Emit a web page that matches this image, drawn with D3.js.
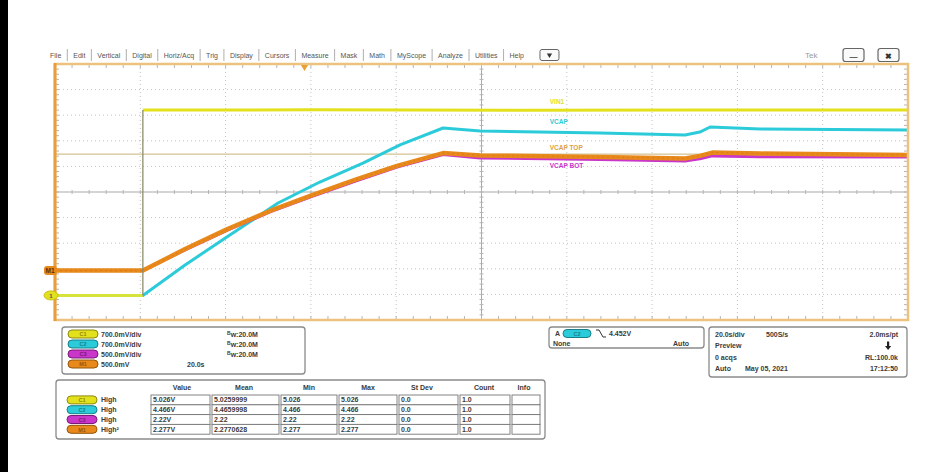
<!DOCTYPE html>
<html>
<head>
<meta charset="utf-8">
<script src="https://cdn.jsdelivr.net/npm/d3@7"></script>
<style>
  html, body { margin: 0; padding: 0; background: #fff; }
  svg { display: block; font-family: "Liberation Sans", Arial, sans-serif; }
</style>
</head>
<body>
<svg id="chart" width="944" height="472"></svg>
<script>
// ---------------- DATA ----------------
// time in seconds (20 s/div, 10 divisions), vertical in screen divisions (-5..5)
const menuItems = ["File","Edit","Vertical","Digital","Horiz/Acq","Trig","Display","Cursors","Measure","Mask","Math","MyScope","Analyze","Utilities","Help"];

const vinT  = [0, 20.6, 20.6, 60, 110, 150, 200];
const vinV  = [-4.04, -4.04, 3.20, 3.21, 3.19, 3.20, 3.20];

const vcapT = [0, 20.6, 30.5, 40.3, 52.3, 62.1, 72.2, 80.9, 91.0, 99.7, 127.8, 147.7, 151.2, 153.6, 165.3, 200];
const vcapV = [-4.04, -4.04, -2.85, -1.76, -0.43, 0.39, 1.13, 1.84, 2.50, 2.38, 2.30, 2.23, 2.34, 2.54, 2.46, 2.42];

const topT  = [0, 20.6, 30.5, 40.3, 50.4, 60.3, 70.3, 80.2, 91.0, 99.7, 127.8, 147.7, 151.2, 154.1, 165.3, 200];
const topV  = [-3.07, -3.07, -2.23, -1.46, -0.74, -0.12, 0.47, 1.02, 1.52, 1.43, 1.37, 1.31, 1.41, 1.54, 1.50, 1.45];

const botT  = [0, 20.6, 30.5, 40.3, 50.4, 60.3, 70.3, 80.2, 91.0, 99.7, 127.8, 147.7, 151.2, 154.1, 165.3, 200];
const botV  = [-3.07, -3.07, -2.26, -1.50, -0.78, -0.17, 0.42, 0.97, 1.46, 1.33, 1.27, 1.21, 1.30, 1.41, 1.38, 1.37];

const traceLabels = ["VIN1", "VCAP", "VCAP TOP", "VCAP BOT"];
const triggerLevel = 1.48;        // divisions
const triggerTime = 58.5;         // s
const labelTime = 116;            // s, where trace labels sit

const chanNames  = ["C1", "C2", "C3", "M1"];
const chanScale  = ["700.0mV/div", "700.0mV/div", "500.0mV/div", "500.0mV"];
const chanBw     = ["20.0M", "20.0M", "20.0M", ""];
const mathTime   = "20.0s";

const trigInfo   = ["A", "4.452V", "None", "Auto"];
const horizInfo  = [["20.0s/div", "500S/s", "2.0ms/pt"], ["Preview", "", ""], ["0 acqs", "", "RL:100.0k"], ["Auto", "May 05, 2021", "17:12:50"]];

const measHeaders = ["Value", "Mean", "Min", "Max", "St Dev", "Count", "Info"];
const measNames   = ["High", "High", "High", "High\u00B2"];
const measValue   = ["5.026V", "4.466V", "2.22V", "2.277V"];
const measMean    = ["5.0259999", "4.4659998", "2.22", "2.2770628"];
const measMin     = ["5.026", "4.466", "2.22", "2.277"];
const measMax     = ["5.026", "4.466", "2.22", "2.277"];
const measStdDev  = ["0.0", "0.0", "0.0", "0.0"];
const measCount   = ["1.0", "1.0", "1.0", "1.0"];

// ---------------- STYLE ----------------
const colY = "#e3e01c", colC = "#2ccbd9", colM = "#c936c9", colO = "#e8891c";
const chanCols = [colY, colC, colM, colO];
const chanDark = ["#8f8a10", "#17808a", "#7a1a7a", "#95560c"];

const svg = d3.select("#chart");
const W = 944, H = 472;
svg.append("rect").attr("width", W).attr("height", H).attr("fill", "#fff");
svg.append("rect").attr("x", 0).attr("y", 0).attr("width", 8).attr("height", H).attr("fill", "#000");

const P = {l: 55, r: 908, t: 64, b: 320};
const x = d3.scaleLinear().domain([0, 200]).range([P.l, P.r]);
const y = d3.scaleLinear().domain([-5, 5]).range([P.b, P.t]);

// ---------------- MENU BAR ----------------
const menu = svg.append("g").attr("font-size", 7).attr("fill", "#555").attr("font-weight", 400);
let mx = 50;
menuItems.forEach((m, i) => {
  const t = menu.append("text").attr("x", mx).attr("y", 57.5).text(m).attr("fill", "#555");
  const w = t.node().getComputedTextLength();
  mx += w + 6;
  if (i < menuItems.length - 1) {
    menu.append("line").attr("x1", mx).attr("x2", mx).attr("y1", 49).attr("y2", 61).attr("stroke", "#999").attr("stroke-width", 0.8);
  }
  mx += 6;
});
// dropdown button
svg.append("rect").attr("x", mx + 4).attr("y", 49.5).attr("width", 19).attr("height", 11).attr("rx", 2)
  .attr("fill", "#fafafa").attr("stroke", "#666").attr("stroke-width", 1);
svg.append("path").attr("d", d3.symbol(d3.symbolTriangle, 12)()).attr("fill", "#333")
  .attr("transform", `translate(${mx + 13.5},55) rotate(180)`);
svg.append("text").attr("x", 805).attr("y", 58).attr("font-size", 8).attr("fill", "#999").text("Tek");
[[843, "\u2014"], [878, "\u2716"]].forEach(([bx, s]) => {
  svg.append("rect").attr("x", bx).attr("y", 48.5).attr("width", 21).attr("height", 13).attr("rx", 2.5)
    .attr("fill", "#fafafa").attr("stroke", "#666").attr("stroke-width", 1.2);
  svg.append("text").attr("x", bx + 10.5).attr("y", 58.5).attr("text-anchor", "middle")
    .attr("font-size", 8).attr("font-weight", 700).attr("fill", "#333").text(s);
});

// ---------------- GRATICULE ----------------
const g = svg.append("g");
const xMaj = d3.range(0, 201, 20), yMaj = d3.range(-5, 6, 1);
const xMin = d3.range(0, 200.01, 4), yMin = d3.range(-5, 5.01, 0.2);
g.selectAll(".vg").data(xMaj.slice(1, -1)).join("line")
  .attr("x1", d => x(d)).attr("x2", d => x(d)).attr("y1", P.t).attr("y2", P.b)
  .attr("stroke", d => d === 100 ? "#a9a9a9" : "#c4c4c4")
  .attr("stroke-width", 1).attr("stroke-dasharray", d => d === 100 ? null : "1,3");
g.selectAll(".hg").data(yMaj.slice(1, -1)).join("line")
  .attr("x1", P.l).attr("x2", P.r).attr("y1", d => y(d)).attr("y2", d => y(d))
  .attr("stroke", d => d === 0 ? "#a9a9a9" : "#c4c4c4")
  .attr("stroke-width", 1).attr("stroke-dasharray", d => d === 0 ? null : "1,3");
// minor ticks on frame and center axes
const tk = g.append("g").attr("stroke", "#b5b5b5").attr("stroke-width", 1);
xMin.forEach(d => {
  tk.append("line").attr("x1", x(d)).attr("x2", x(d)).attr("y1", P.t).attr("y2", P.t + 4);
  tk.append("line").attr("x1", x(d)).attr("x2", x(d)).attr("y1", P.b).attr("y2", P.b - 4);
  tk.append("line").attr("x1", x(d)).attr("x2", x(d)).attr("y1", y(0) - 2).attr("y2", y(0) + 2);
});
yMin.forEach(d => {
  tk.append("line").attr("y1", y(d)).attr("y2", y(d)).attr("x1", P.l).attr("x2", P.l + 4);
  tk.append("line").attr("y1", y(d)).attr("y2", y(d)).attr("x1", P.r).attr("x2", P.r - 4);
  tk.append("line").attr("y1", y(d)).attr("y2", y(d)).attr("x1", x(100) - 2).attr("x2", x(100) + 2);
});

// trigger level line
g.append("line").attr("x1", P.l).attr("x2", P.r).attr("y1", y(triggerLevel)).attr("y2", y(triggerLevel))
  .attr("stroke", "#c9b27a").attr("stroke-width", 1);

// ---------------- TRACES ----------------
const line = d3.line().x(d => x(d[0])).y(d => y(d[1]));
const zip = (a, b) => a.map((v, i) => [v, b[i]]);
const tr = svg.append("g").attr("fill", "none").attr("stroke-linejoin", "round");
tr.append("path").datum(zip(vcapT, vcapV)).attr("d", line).attr("stroke", colC).attr("stroke-width", 3);
tr.append("path").datum(zip(botT, botV)).attr("d", line).attr("stroke", colM).attr("stroke-width", 3);
tr.append("path").datum(zip(topT, topV)).attr("d", line).attr("stroke", colO).attr("stroke-width", 4.5);
tr.append("path").datum(zip(topT, topV)).attr("d", line).attr("stroke", "#d9700f").attr("stroke-width", 1).attr("stroke-dasharray", "2,3").attr("opacity", 0.6);
// yellow: low and high horizontal parts, thin step edge
const vin = zip(vinT, vinV);
tr.append("path").datum(vin.slice(0, 2)).attr("d", line).attr("stroke", "#d6e33a").attr("stroke-width", 3);
tr.append("path").datum(vin.slice(2)).attr("d", line).attr("stroke", colY).attr("stroke-width", 3);
tr.append("path").datum(vin.slice(1, 3)).attr("d", line).attr("stroke", "#8d8d6a").attr("stroke-width", 1.3);

// trace labels
const lab = svg.append("g").attr("font-size", 6.5).attr("font-weight", 600);
const labelPos = [[vinT, vinV, -6, colY], [vcapT, vcapV, -6, colC], [topT, topV, -5, "#e0a040"], [botT, botV, 11, colM]];
labelPos.forEach(([tt, vv, dy, c], i) => {
  lab.append("text").attr("x", x(labelTime)).attr("y", y(vv[vv.length - 1]) + dy).attr("fill", c).text(traceLabels[i]);
});

// frame
svg.append("rect").attr("x", P.l).attr("y", P.t).attr("width", P.r - P.l).attr("height", P.b - P.t)
  .attr("fill", "none").attr("stroke", "#ecc27e").attr("stroke-width", 2.5);
svg.append("line").attr("x1", P.l).attr("x2", P.l).attr("y1", P.t - 1).attr("y2", P.b + 1)
  .attr("stroke", "#e99d3c").attr("stroke-width", 3);

// trigger position marker
svg.append("path").attr("d", d3.symbol(d3.symbolTriangle, 22)()).attr("fill", "#e8a030")
  .attr("transform", `translate(${x(triggerTime)},${P.t + 3}) rotate(180)`);

// channel markers at left
const m1y = y(topV[0]), c1y = y(vinV[0]);
svg.append("rect").attr("x", 44).attr("y", m1y - 4.5).attr("width", 13).attr("height", 9).attr("rx", 3).attr("fill", colO);
svg.append("text").attr("x", 50).attr("y", m1y + 2.5).attr("text-anchor", "middle").attr("font-size", 6.5).attr("font-weight", 700).attr("fill", "#5a3208").text("M1");
svg.append("ellipse").attr("cx", 51).attr("cy", c1y).attr("rx", 7).attr("ry", 4.5).attr("fill", colY).attr("stroke", "#c8c010");
svg.append("text").attr("x", 51).attr("y", c1y + 2.3).attr("text-anchor", "middle").attr("font-size", 6).attr("font-weight", 700).attr("fill", "#555").text("1");

// ---------------- LOWER PANELS ----------------
const txt = (parent, xx, yy, s, anchor) => parent.append("text").attr("x", xx).attr("y", yy)
  .attr("text-anchor", anchor || "start").text(s);
const badge = (parent, bx, cy, i, w) => {
  parent.append("rect").attr("x", bx).attr("y", cy - 4).attr("width", w || 30).attr("height", 8).attr("rx", 4)
    .attr("fill", chanCols[i]).attr("stroke", chanDark[i]).attr("stroke-width", 1);
  parent.append("text").attr("x", bx + (w || 30) / 2).attr("y", cy + 2.2).attr("text-anchor", "middle")
    .attr("font-size", 5.5).attr("fill", chanDark[i]).text(chanNames[i]);
};
const panel = svg.append("g").attr("font-size", 7).attr("font-weight", 600).attr("fill", "#3a3a3a");
const box = (bx, by, bw, bh) => panel.append("rect").attr("x", bx).attr("y", by).attr("width", bw).attr("height", bh)
  .attr("rx", 3).attr("fill", "#fff").attr("stroke", "#8a8a8a").attr("stroke-width", 1.3);

// channel box
box(62, 327, 243, 47);
chanNames.forEach((c, i) => {
  const cy = 334 + i * 10;
  badge(panel, 68, cy, i);
  txt(panel, 101, cy + 2.5, chanScale[i]);
  if (chanBw[i]) {
    const t = panel.append("text").attr("x", 227).attr("y", cy + 2.5);
    t.append("tspan").attr("font-size", 5).attr("dy", -2).text("B");
    t.append("tspan").attr("dy", 2).text("w:" + chanBw[i]);
  }
});
txt(panel, 187, 334 + 30 + 2.5, mathTime);

// trigger box
box(549, 327, 155, 21);
txt(panel, 555, 336, trigInfo[0]);
badge(panel, 563, 333.5, 1, 28);
panel.append("path").attr("d", "M596,330 L599,330 L603,337 L606,337").attr("fill", "none").attr("stroke", "#333").attr("stroke-width", 1);
txt(panel, 609, 336, trigInfo[1]);
txt(panel, 553, 345.5, trigInfo[2]);
txt(panel, 689, 345.5, trigInfo[3], "end");

// horizontal box
box(709, 327, 198, 50);
horizInfo.forEach((row, i) => {
  const yy = 336.5 + i * 11.5;
  txt(panel, 715, yy, row[0]);
  if (row[1]) txt(panel, i === 0 ? 766 : 745, yy, row[1]);
  if (row[2]) txt(panel, 898, yy, row[2], "end");
});
// download/thermometer icon in Preview row
panel.append("rect").attr("x", 887).attr("y", 341.5).attr("width", 2.2).attr("height", 5).attr("fill", "#222");
panel.append("path").attr("d", "M885,346 L891.2,346 L888.1,350 Z").attr("fill", "#222");

// measurement table
box(56, 380, 489, 59);
const colX = [151, 212, 281, 339, 399, 460, 512, 542];
const hdrC = [182, 244, 309, 368, 422, 484, 524];
measHeaders.forEach((h, j) => txt(panel, hdrC[j], 389.5, h, "middle"));
const cols = [measValue, measMean, measMin, measMax, measStdDev, measCount];
measNames.forEach((nm, i) => {
  const top = 395 + i * 9.8, cy = top + 4.9;
  badge(panel, 67, cy, i);
  txt(panel, 101, cy + 2.5, nm);
  for (let j = 0; j < 7; j++) {
    panel.append("rect").attr("x", colX[j]).attr("y", top).attr("width", colX[j + 1] - colX[j] - 2).attr("height", 9.8)
      .attr("fill", "#fff").attr("stroke", "#777").attr("stroke-width", 0.9);
    if (j < 6) txt(panel, colX[j] + 2, cy + 2.5, cols[j][i]);
  }
});
</script>
</body>
</html>
